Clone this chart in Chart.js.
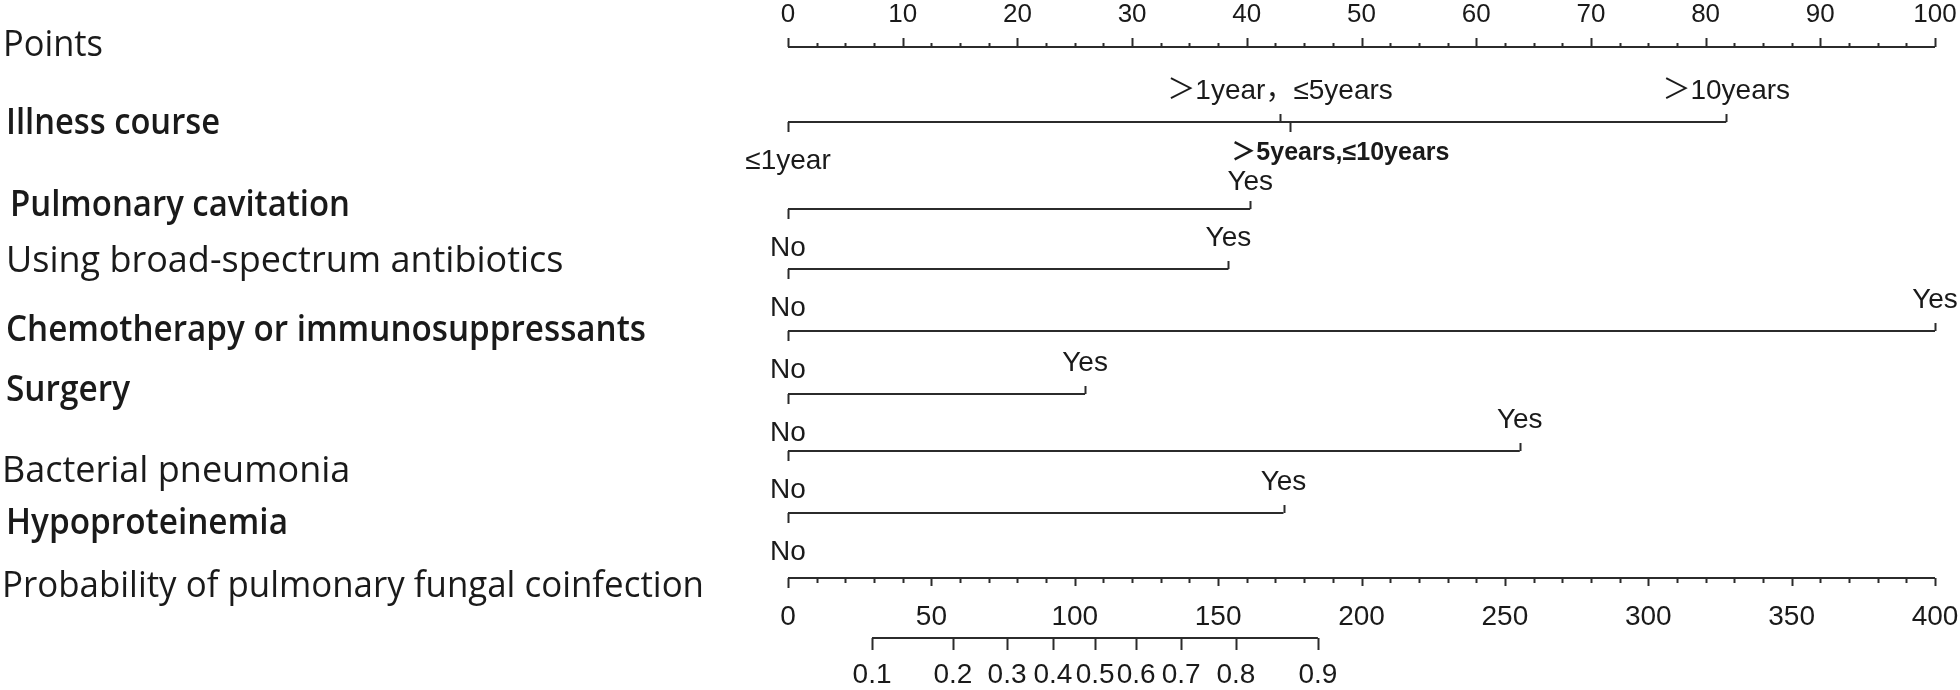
<!DOCTYPE html>
<html>
<head>
<meta charset="utf-8">
<script src="https://cdn.jsdelivr.net/npm/chart.js@4.4.0/dist/chart.umd.min.js"></script>
<style>
  html, body { margin: 0; padding: 0; background: #fff; }
  canvas { display: block; }
</style>
</head>
<body>
<canvas id="nomo" width="1960" height="690"></canvas>
<script>
// ─── Data ────────────────────────────────────────────────
const pointsTicks = [0, 10, 20, 30, 40, 50, 60, 70, 80, 90, 100];
const totalTicks  = [0, 50, 100, 150, 200, 250, 300, 350, 400];

const illnessLevels = ["≤1year", "＞1year，≤5years", "＞5years,≤10years", "＞10years"];
const illnessPoints = [0, 42.9, 43.8, 81.8];

const binaryLevels      = ["No", "Yes"];
const cavitationPoints  = [0, 40.3];
const antibioticPoints  = [0, 38.4];
const chemoPoints       = [0, 100];
const surgeryPoints     = [0, 25.9];
const pneumoniaPoints   = [0, 63.8];
const hypoproteinPoints = [0, 43.2];

const probLabels      = ["0.1", "0.2", "0.3", "0.4", "0.5", "0.6", "0.7", "0.8", "0.9"];
const probTotalPoints = [29.3, 57.5, 76.4, 92.4, 107.1, 121.4, 137.1, 156.2, 184.8];

// ─── Layout (pixel rows, fonts) ─────────────────────────
const ROW = { points: 47, illness: 122, cav: 209, abx: 269, chemo: 331, surg: 394,
              pneu: 451, hypo: 513, total: 578, prob: 638 };

const names = [
  { text: "Points", x: 3, y: 46, w: 100, bold: false },
  { text: "Illness course", x: 6, y: 124, w: 214, bold: true },
  { text: "Pulmonary cavitation", x: 10, y: 206, w: 340, bold: true },
  { text: "Using broad-spectrum antibiotics", x: 6, y: 262, w: 570, bold: false },
  { text: "Chemotherapy or immunosuppressants", x: 6, y: 331, w: 640, bold: true },
  { text: "Surgery", x: 6, y: 391, w: 124, bold: true },
  { text: "Bacterial pneumonia", x: 2, y: 472, w: 443, bold: false },
  { text: "Hypoproteinemia", x: 6, y: 524, w: 282, bold: true },
  { text: "Probability of pulmonary fungal coinfection", x: 2, y: 587, w: 702, bold: false },
];

// each factor row: levels, points, row y, label side (+1 below / -1 above), nudges
const factors = [
  { levels: illnessLevels, pts: illnessPoints, y: ROW.illness, side: [1, -1, 1, -1],
    dx: [0, 0, 50, 0], dy: [0, 0, -8, 0], bold: [false, false, true, false] },
  { levels: binaryLevels, pts: cavitationPoints, y: ROW.cav, dy: [0, 4] },
  { levels: binaryLevels, pts: antibioticPoints, y: ROW.abx },
  { levels: binaryLevels, pts: chemoPoints, y: ROW.chemo },
  { levels: binaryLevels, pts: surgeryPoints, y: ROW.surg },
  { levels: binaryLevels, pts: pneumoniaPoints, y: ROW.pneu },
  { levels: binaryLevels, pts: hypoproteinPoints, y: ROW.hypo },
];

const INK = "#1a1a1a";
const LINE = "#2b2b2b";
const LABEL_FONT = "'Liberation Sans', 'Noto Sans CJK SC', sans-serif";

// ─── Datasets: one horizontal segment per row ───────────
const datasets = [];
function seg(xs, y, axis) {
  datasets.push({
    data: [{ x: Math.min(...xs), y }, { x: Math.max(...xs), y }],
    xAxisID: axis, yAxisID: "y",
    showLine: true, borderColor: LINE, borderWidth: 2,
    pointRadius: 0, fill: false,
  });
}
seg(pointsTicks, ROW.points, "x");
factors.forEach(f => seg(f.pts, f.y, "x"));
seg(totalTicks, ROW.total, "x2");
seg(probTotalPoints, ROW.prob, "x2");

// ─── Ticks, labels, names drawn through the scales ──────
const nomogramPlugin = {
  id: "nomogram",
  afterDatasetsDraw(chart) {
    const ctx = chart.ctx;
    const sx = chart.scales.x, sx2 = chart.scales.x2, sy = chart.scales.y;
    const X = v => sx.getPixelForValue(v);
    const X2 = v => sx2.getPixelForValue(v);
    const Y = v => sy.getPixelForValue(v);

    ctx.save();
    ctx.strokeStyle = LINE;
    ctx.fillStyle = INK;
    ctx.lineWidth = 2;

    function tick(x, y, len) {
      ctx.beginPath();
      ctx.moveTo(Math.round(x) + 0.5, y);
      ctx.lineTo(Math.round(x) + 0.5, y + len);
      ctx.stroke();
    }

    // Points axis (ticks upward)
    const py = Y(ROW.points);
    for (let v = 0; v <= 100; v += 2.5) {
      tick(X(v), py, v % 10 === 0 ? -9 : -4);
    }
    ctx.font = "26px " + LABEL_FONT;
    ctx.textAlign = "center";
    ctx.textBaseline = "middle";
    pointsTicks.forEach(v => ctx.fillText(String(v), X(v), 15));

    // Factor rows
    factors.forEach(f => {
      const y = Y(f.y);
      f.levels.forEach((lab, i) => {
        const side = f.side ? f.side[i] : (i === 0 ? 1 : -1);
        const x = X(f.pts[i]);
        tick(x, y, side > 0 ? 10 : -8);
        const bold = f.bold && f.bold[i];
        ctx.font = (bold ? "bold 25px " : "28px ") + LABEL_FONT;
        const ly = (side > 0 ? y + 39 : y - 31) + (f.dy ? f.dy[i] : 0);
        ctx.fillText(lab, x + (f.dx ? f.dx[i] : 0), ly);
      });
    });

    // Total points axis (ticks downward)
    const ty = Y(ROW.total);
    for (let v = 0; v <= 400; v += 10) {
      tick(X2(v), ty, v === 0 ? 10 : (v % 50 === 0 ? 8 : 5));
    }
    ctx.font = "28px " + LABEL_FONT;
    totalTicks.forEach(v => ctx.fillText(String(v), X2(v), 617));

    // Probability axis
    const qy = Y(ROW.prob);
    probTotalPoints.forEach((v, i) => {
      tick(X2(v), qy, 12);
      ctx.fillText(probLabels[i], X2(v), 675);
    });

    // Variable names (condensed to the reference widths)
    ctx.textAlign = "left";
    names.forEach(n => {
      ctx.font = (n.bold ? "600 36px " : "36px ") + "'Open Sans', sans-serif";
      ctx.fillText(n.text, n.x, n.y, n.w);
    });
    ctx.restore();
  }
};

new Chart(document.getElementById("nomo"), {
  type: "scatter",
  data: { datasets },
  options: {
    responsive: false,
    animation: false,
    devicePixelRatio: 1,
    layout: { padding: { left: 788, right: 25, top: 0, bottom: 0 } },
    scales: {
      x:  { type: "linear", min: 0, max: 100, display: false },
      x2: { type: "linear", min: 0, max: 400, display: false },
      y:  { type: "linear", min: 0, max: 690, reverse: true, display: false },
    },
    plugins: { legend: { display: false }, tooltip: { enabled: false } },
  },
  plugins: [nomogramPlugin],
});
</script>
</body>
</html>
